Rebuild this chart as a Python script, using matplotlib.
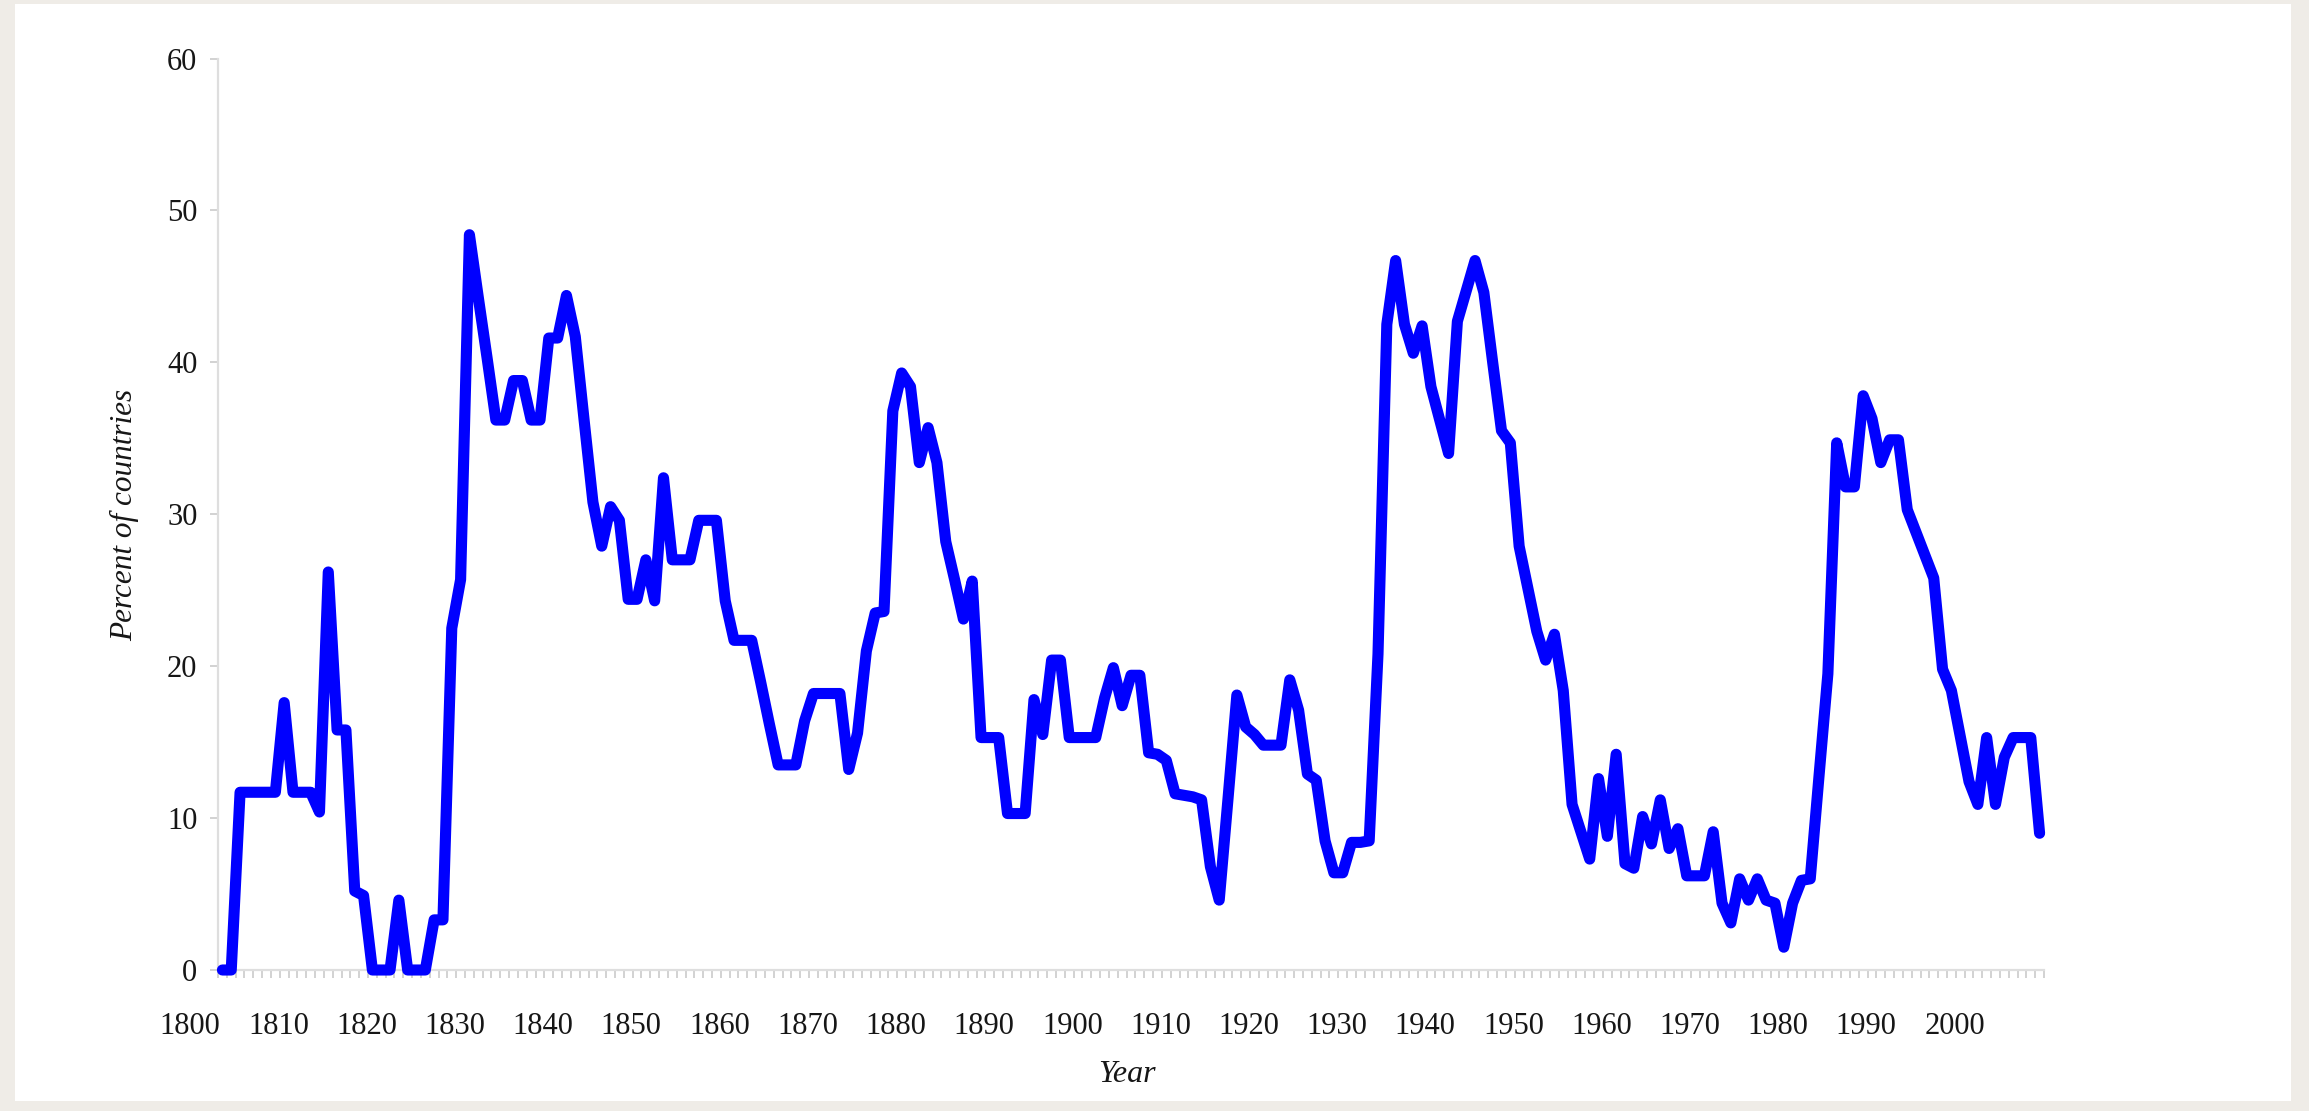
# share of countries in default, one point per year
import numpy as np
import matplotlib
matplotlib.use('Agg')
import matplotlib.pyplot as plt
from matplotlib.patches import Rectangle

years = np.arange(1800, 2007)

pct = [
    0.0, 0.0, 11.7, 11.7, 11.7, 11.7, 11.7, 17.6, 11.7, 11.7,      # 1800s
    11.7, 10.4, 26.2, 15.8, 15.8, 5.2, 4.9, 0.0, 0.0, 0.0,          # 1810s
    4.6, 0.0, 0.0, 0.0, 3.3, 3.3, 22.5, 25.7, 48.4, 44.3,           # 1820s
    40.3, 36.2, 36.2, 38.8, 38.8, 36.2, 36.2, 41.6, 41.6, 44.4,     # 1830s
    41.7, 36.2, 30.8, 27.9, 30.5, 29.6, 24.4, 24.4, 27.0, 24.3,     # 1840s
    32.4, 27.0, 27.0, 27.0, 29.6, 29.6, 29.6, 24.3, 21.7, 21.7,     # 1850s
    21.7, 19.0, 16.2, 13.5, 13.5, 13.5, 16.4, 18.2, 18.2, 18.2,     # 1860s
    18.2, 13.2, 15.6, 21.0, 23.5, 23.6, 36.8, 39.3, 38.4, 33.4,     # 1870s
    35.7, 33.4, 28.2, 25.7, 23.1, 25.6, 15.3, 15.3, 15.3, 10.3,     # 1880s
    10.3, 10.3, 17.8, 15.5, 20.4, 20.4, 15.3, 15.3, 15.3, 15.3,     # 1890s
    17.9, 19.9, 17.4, 19.4, 19.4, 14.3, 14.2, 13.8, 11.6, 11.5,     # 1900s
    11.4, 11.2, 6.8, 4.6, 11.3, 18.1, 16.0, 15.5, 14.8, 14.8,       # 1910s
    14.8, 19.1, 17.1, 12.9, 12.5, 8.5, 6.4, 6.4, 8.4, 8.4,          # 1920s
    8.5, 20.8, 42.5, 46.7, 42.5, 40.6, 42.4, 38.4, 36.2, 34.0,      # 1930s
    42.7, 44.7, 46.7, 44.6, 40.0, 35.5, 34.7, 27.9, 25.1, 22.3,     # 1940s
    20.4, 22.1, 18.4, 10.9, 9.1, 7.3, 12.6, 8.8, 14.2, 7.0,         # 1950s
    6.7, 10.1, 8.3, 11.2, 8.0, 9.3, 6.2, 6.2, 6.2, 9.1,             # 1960s
    4.4, 3.1, 6.0, 4.6, 6.0, 4.6, 4.4, 1.5, 4.4, 5.9,               # 1970s
    6.0, 12.8, 19.5, 34.7, 31.8, 31.8, 37.8, 36.3, 33.4, 34.9,      # 1980s
    34.9, 30.3, 28.8, 27.3, 25.8, 19.8, 18.4, 15.4, 12.4, 10.9,     # 1990s
    15.3, 10.9, 14.0, 15.3, 15.3, 15.3, 9.0,                        # 2000s
]

label_years = np.arange(1800, 2001, 10)
y_ticks = [0, 10, 20, 30, 40, 50, 60]

W, H = 2309, 1111
serif = ['Liberation Serif', 'DejaVu Serif']

fig = plt.figure(figsize=(W / 100, H / 100), dpi=100)
fig.patch.set_facecolor('#efece7')
# white slide on the beige desk, kept behind the axes
fig.patches.append(Rectangle((15 / W, (H - 1101) / H), (2291 - 15) / W, (1101 - 4) / H,
                             transform=fig.transFigure, facecolor='white',
                             edgecolor='none', zorder=-10))

# axes box in pixels: x 169.5..2044, y 58.5..970
ax = fig.add_axes([169.5 / W, (H - 970) / H, (2044 - 169.5) / W, (970 - 58.5) / H])
ax.set_zorder(5)
ax.set_facecolor('none')
ax.set_xlim(1794.0, 2006.5)
ax.set_ylim(0, 60)

ax.plot(years, pct, color='#0000ff', lw=8, solid_joinstyle='round',
        solid_capstyle='round', clip_on=False, zorder=3)

for s in ['top', 'right']:
    ax.spines[s].set_visible(False)
ax.spines['left'].set_position(('data', 1799.5))
ax.spines['left'].set_bounds(0, 60)
ax.spines['bottom'].set_bounds(1799.5, 2006.5)
for s in ['left', 'bottom']:
    ax.spines[s].set_color('#dedede')
    ax.spines[s].set_linewidth(1.6)

ax.set_yticks(y_ticks)
ax.set_yticklabels([str(v) for v in y_ticks])
ax.tick_params(axis='y', direction='out', length=5.8, width=1.3, color='#cfcfcf',
               pad=9, labelsize=22, labelcolor='#161616')

# labels sit a few years left of the data, as in the original
ax.set_xticks(label_years - 3.65)
ax.set_xticklabels([str(y) for y in label_years])
ax.set_xticks(np.arange(1799.5, 2007, 1.0), minor=True)
ax.tick_params(axis='x', which='major', length=0, pad=30, labelsize=22,
               labelcolor='#161616')
ax.tick_params(axis='x', which='minor', direction='out', length=5.8, width=1.3,
               color='#cfcfcf')
for lab in ax.get_xticklabels() + ax.get_yticklabels():
    lab.set_family(serif)

ax.set_xlabel('Year', family=serif, style='italic', fontsize=23, color='#161616')
ax.xaxis.set_label_coords((1127 - 169.5) / (2044 - 169.5), (970 - 1075) / (970 - 58.5))
ax.xaxis.label.set_va('center')
ax.set_ylabel('Percent of countries', family=serif, style='italic', fontsize=22.5,
              color='#161616')
ax.yaxis.set_label_coords((125 - 169.5) / (2044 - 169.5), (970 - 515) / (970 - 58.5))
ax.yaxis.label.set_va('center')

fig.savefig('out.png', dpi=100, facecolor=fig.get_facecolor())
